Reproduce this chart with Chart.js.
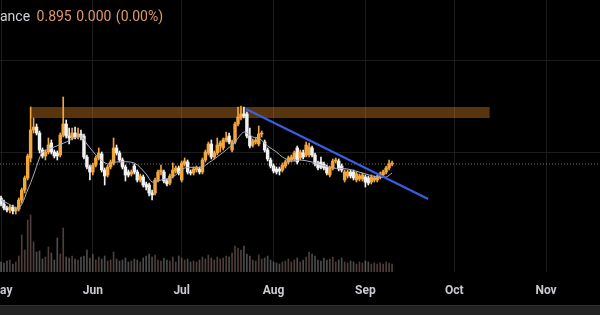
<!DOCTYPE html>
<html>
<head>
<meta charset="utf-8">
<script src="https://cdn.jsdelivr.net/npm/chart.js@4.4.1/dist/chart.umd.min.js"></script>
<style>
  html, body { margin: 0; padding: 0; background: #000; }
  #wrap { position: relative; width: 600px; height: 315px; overflow: hidden; background: #000; }
  #box { position: absolute; left: 0; top: 0; width: 600px; height: 305px; }
  #legend { position: absolute; left: 0; top: 8px; font: 14px Roboto, sans-serif; color: #cfd2d8; white-space: nowrap; word-spacing: 1px; }
  #legend span { color: #de9a6a; margin-left: 2px; }
  #strip { position: absolute; left: 0; bottom: 0; width: 600px; height: 9px; background: #232323; border-top: 1px solid #303030; }
</style>
</head>
<body>
<div id="wrap">
  <div id="box"><canvas id="chart"></canvas></div>
  <div id="legend">ance <span>0.895 0.000 (0.00%)</span></div>
  <div id="strip"></div>
</div>
<script>
// daily candles, day 0 = 1 May
const opens = [0.827,0.815,0.807,0.803,0.809,0.801,0.805,0.823,0.843,0.867,
  0.907,0.963,0.969,0.957,0.923,0.911,0.919,0.937,0.919,0.917,
  0.913,0.953,0.975,0.951,0.947,0.957,0.949,0.955,0.951,0.909,
  0.889,0.879,0.893,0.907,0.915,0.883,0.873,0.889,0.897,0.927,
  0.917,0.903,0.889,0.879,0.875,0.891,0.879,0.863,0.869,0.855,
  0.853,0.837,0.837,0.863,0.879,0.879,0.861,0.857,0.871,0.881,
  0.887,0.863,0.895,0.899,0.879,0.877,0.883,0.885,0.879,0.903,
  0.917,0.935,0.909,0.917,0.931,0.927,0.943,0.951,0.923,0.939,
  0.975,0.987,0.995,0.995,0.951,0.933,0.939,0.935,0.955,0.939,
  0.923,0.903,0.891,0.885,0.885,0.883,0.891,0.899,0.903,0.905,
  0.927,0.907,0.917,0.913,0.913,0.927,0.913,0.897,0.899,0.895,
  0.889,0.873,0.887,0.901,0.901,0.891,0.863,0.871,0.879,0.879,
  0.863,0.865,0.865,0.869,0.867,0.859,0.863,0.863,0.869,0.873,
  0.879,0.887,0.895];
const closes = [0.815,0.807,0.803,0.809,0.801,0.805,0.823,0.843,0.867,0.911,
  0.963,0.969,0.957,0.923,0.911,0.919,0.933,0.919,0.911,0.911,
  0.953,0.975,0.951,0.947,0.957,0.949,0.955,0.949,0.909,0.889,
  0.879,0.893,0.907,0.917,0.883,0.871,0.889,0.899,0.927,0.917,
  0.903,0.889,0.873,0.873,0.879,0.879,0.863,0.871,0.853,0.849,
  0.837,0.833,0.863,0.879,0.883,0.861,0.855,0.871,0.883,0.887,
  0.877,0.897,0.901,0.879,0.877,0.885,0.887,0.879,0.903,0.919,
  0.935,0.909,0.917,0.933,0.937,0.943,0.947,0.939,0.939,0.975,
  0.989,0.995,0.991,0.951,0.931,0.941,0.943,0.955,0.957,0.923,
  0.905,0.891,0.881,0.879,0.881,0.893,0.899,0.907,0.909,0.917,
  0.899,0.919,0.909,0.933,0.929,0.913,0.895,0.887,0.889,0.887,
  0.877,0.887,0.901,0.903,0.885,0.883,0.879,0.879,0.871,0.867,
  0.875,0.871,0.873,0.859,0.857,0.869,0.867,0.869,0.875,0.879,
  0.887,0.895,0.895];
const highs = [0.831,0.823,0.811,0.813,0.813,0.809,0.827,0.847,0.871,0.915,
  1.009,0.987,0.975,0.961,0.927,0.923,0.947,0.943,0.923,0.921,
  0.957,1.029,0.983,0.967,0.967,0.969,0.967,0.963,0.955,0.913,
  0.893,0.897,0.911,0.927,0.919,0.887,0.893,0.903,0.947,0.933,
  0.921,0.907,0.893,0.883,0.883,0.895,0.883,0.875,0.873,0.859,
  0.857,0.843,0.867,0.883,0.893,0.883,0.865,0.875,0.897,0.891,
  0.891,0.901,0.907,0.903,0.883,0.889,0.891,0.889,0.907,0.923,
  0.939,0.943,0.921,0.947,0.941,0.947,0.959,0.957,0.943,0.979,
  1.009,1.011,1.009,0.999,0.967,0.945,0.947,0.971,0.961,0.943,
  0.927,0.907,0.895,0.889,0.889,0.897,0.903,0.911,0.913,0.921,
  0.931,0.923,0.923,0.939,0.937,0.931,0.917,0.901,0.909,0.899,
  0.893,0.891,0.905,0.907,0.905,0.895,0.883,0.883,0.883,0.883,
  0.879,0.875,0.877,0.873,0.871,0.873,0.871,0.873,0.879,0.883,
  0.891,0.903,0.901];
const lows = [0.811,0.803,0.799,0.797,0.795,0.795,0.801,0.817,0.837,0.863,
  0.899,0.957,0.953,0.917,0.907,0.903,0.915,0.915,0.907,0.903,
  0.909,0.949,0.947,0.935,0.943,0.945,0.945,0.943,0.905,0.885,
  0.863,0.873,0.889,0.903,0.879,0.853,0.869,0.885,0.893,0.913,
  0.899,0.885,0.861,0.869,0.871,0.875,0.859,0.859,0.849,0.843,
  0.831,0.823,0.833,0.859,0.873,0.857,0.851,0.853,0.867,0.877,
  0.873,0.859,0.891,0.875,0.873,0.873,0.879,0.875,0.875,0.899,
  0.913,0.905,0.905,0.913,0.919,0.923,0.939,0.935,0.919,0.935,
  0.971,0.983,0.987,0.947,0.927,0.929,0.935,0.931,0.949,0.919,
  0.901,0.887,0.877,0.875,0.873,0.879,0.887,0.895,0.899,0.901,
  0.895,0.903,0.905,0.909,0.909,0.909,0.891,0.883,0.885,0.883,
  0.873,0.869,0.883,0.897,0.881,0.879,0.859,0.867,0.867,0.863,
  0.859,0.861,0.861,0.849,0.853,0.855,0.859,0.859,0.865,0.869,
  0.875,0.883,0.891];
const volumes = [1.0,0.9,1.1,1.2,0.8,1.0,1.6,3.7,2.2,5.2,
  5.7,3.0,2.0,2.1,1.3,1.5,2.5,1.9,1.2,3.4,
  1.8,4.4,1.5,1.4,1.6,1.3,1.2,1.5,1.6,2.2,
  1.4,1.8,1.2,1.5,1.3,1.6,1.1,1.2,2.0,1.3,
  1.1,1.2,1.4,1.0,1.1,1.3,1.2,1.0,1.4,1.6,
  1.8,1.5,1.7,1.2,1.1,1.4,1.2,1.1,1.5,1.0,
  1.6,1.4,1.2,1.3,1.0,1.1,1.0,1.2,1.5,1.3,
  1.7,1.4,1.2,1.5,1.3,1.4,1.6,1.5,1.9,2.6,
  2.4,2.2,2.6,1.8,1.6,1.2,1.1,1.7,1.3,1.4,
  1.6,1.2,1.0,0.9,0.8,1.0,1.1,1.3,1.0,1.2,
  1.4,1.0,1.2,1.5,2.0,1.8,1.6,1.2,1.1,1.4,
  1.2,1.3,1.5,1.0,1.2,1.4,1.0,0.9,1.1,1.0,
  0.8,1.0,0.9,1.1,1.0,0.8,0.9,0.8,0.9,0.8,
  1.0,0.9,0.8];

// moving average
const maDays = [0,2,6,9,11,13,14,18,22,27,29,33,36,39,45,49,51,54,58,62,68,70,72,76,79,82,85,87,90,93,95,98,101,105,108,112,117,122,127,130,132];
const maValues = [0.823,0.817,0.807,0.843,0.873,0.907,0.919,0.929,0.939,0.951,0.935,0.907,0.895,0.899,0.897,0.875,0.859,0.863,0.869,0.887,0.889,0.897,0.905,0.923,0.939,0.959,0.949,0.947,0.931,0.919,0.909,0.901,0.903,0.899,0.893,0.887,0.885,0.877,0.869,0.869,0.877];

// drawings
const zoneDays = [10, 165];
const zonePrices = [1.009, 0.987];
const trendDays = [82.7, 144.2];
const trendPrices = [1.005, 0.825];
const lastPrice = 0.895;

const monthTicks = [0, 31, 61, 92, 123, 153, 184];
const monthLabels = ['May', 'Jun', 'Jul', 'Aug', 'Sep', 'Oct', 'Nov'];

const X_MIN = -0.34, X_MAX = 202.2;
const UP = '#f2a63e', DOWN = '#f1f1f1';
const isUp = i => closes[i] >= opens[i];

const wickData = highs.map((h, i) => ({ x: i, y: [lows[i], h] }));
const bodyData = opens.map((o, i) => ({ x: i, y: [o, closes[i]] }));
const volData = volumes.map((v, i) => ({ x: i, y: v }));

new Chart(document.getElementById('chart'), {
  data: {
    datasets: [
      { type: 'line', data: [{ x: zoneDays[0], y: zonePrices[0] }, { x: zoneDays[1], y: zonePrices[0] }],
        borderWidth: 0, pointRadius: 0, order: 20 },
      { type: 'line', data: [{ x: zoneDays[0], y: zonePrices[1] }, { x: zoneDays[1], y: zonePrices[1] }],
        borderWidth: 0, pointRadius: 0, fill: '-1', backgroundColor: 'rgba(240,145,35,0.37)', order: 19 },
      { type: 'bar', yAxisID: 'yv', data: volData, barThickness: 1, grouped: false,
        backgroundColor: c => isUp(c.dataIndex) ? 'rgba(215,170,160,0.36)' : 'rgba(210,210,210,0.36)', order: 15 },
      { type: 'line', data: [{ x: X_MIN, y: lastPrice }, { x: X_MAX, y: lastPrice }],
        borderColor: 'rgba(205,175,150,0.65)', borderWidth: 1, borderDash: [1, 2], pointRadius: 0, order: 12 },
      { type: 'bar', data: wickData, barThickness: 1, grouped: false,
        backgroundColor: c => isUp(c.dataIndex) ? UP : DOWN, order: 6 },
      { type: 'bar', data: bodyData, barThickness: 2.8, grouped: false, minBarLength: 1,
        backgroundColor: c => isUp(c.dataIndex) ? UP : DOWN, order: 5 },
      { type: 'line', data: maDays.map((d, i) => ({ x: d, y: maValues[i] })),
        borderColor: '#a8aec6', borderWidth: 1, pointRadius: 0, tension: 0.3, order: 3 },
      { type: 'line', data: trendDays.map((d, i) => ({ x: d, y: trendPrices[i] })),
        borderColor: '#3a5fe6', borderWidth: 2, pointRadius: 0, order: 1 }
    ]
  },
  options: {
    responsive: true,
    maintainAspectRatio: false,
    animation: false,
    layout: { padding: 0 },
    plugins: { legend: { display: false }, tooltip: { enabled: false } },
    scales: {
      x: {
        type: 'linear', min: X_MIN, max: X_MAX, offset: false,
        afterBuildTicks: s => { s.ticks = monthTicks.map(v => ({ value: v })); },
        afterFit: s => { s.height = 33; s.paddingLeft = 0; s.paddingRight = 0; },
        ticks: {
          autoSkip: false, maxRotation: 0, padding: 12, color: '#c9cbd1',
          font: { family: 'Roboto', size: 12, weight: 'bold' },
          callback: v => monthLabels[monthTicks.indexOf(v)]
        },
        grid: { color: '#1b1b1b', drawTicks: false, offset: false },
        border: { display: false }
      },
      y: {
        min: 0.679, max: 1.223,
        afterBuildTicks: s => { s.ticks = [0.919, 1.103].map(v => ({ value: v })); },
        afterFit: s => { s.width = 0; },
        ticks: { display: false },
        grid: { color: '#1b1b1b', drawTicks: false },
        border: { display: false }
      },
      yv: { display: false, min: 0, max: 27.2 }
    }
  }
});
</script>
</body>
</html>
